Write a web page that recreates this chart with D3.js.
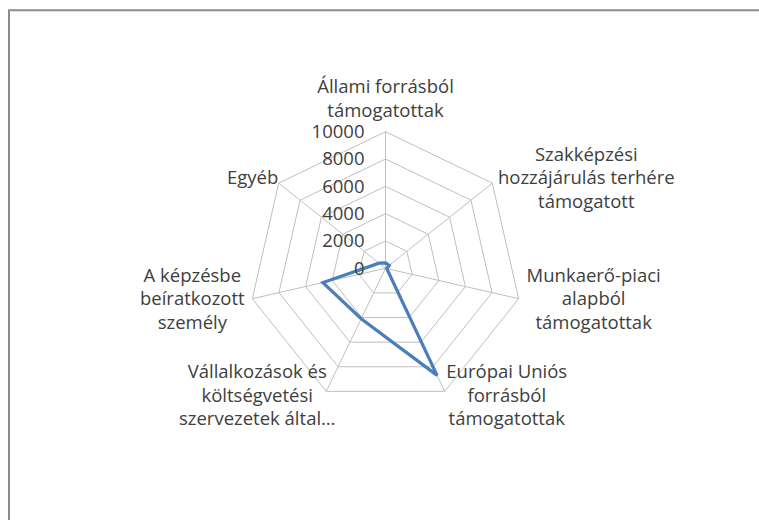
<!DOCTYPE html>
<html>
<head>
<meta charset="utf-8">
<script src="https://cdn.jsdelivr.net/npm/d3@7"></script>
<style>
  html, body { margin: 0; padding: 0; background: #fff; }
  svg { display: block; }
  text { font-family: "Open Sans", sans-serif; fill: #404040; }
</style>
</head>
<body>
<svg id="chart" width="759" height="520"></svg>
<script>
// ---- data ----
const categories = [
  ["Állami forrásból", "támogatottak"],
  ["Szakképzési", "hozzájárulás terhére", "támogatott"],
  ["Munkaerő-piaci", "alapból", "támogatottak"],
  ["Európai Uniós", "forrásból", "támogatottak"],
  ["Vállalkozások és", "költségvetési", "szervezetek által…"],
  ["A képzésbe", "beíratkozott", "személy"],
  ["Egyéb"]
];
const values = [400, 350, 100, 8700, 4100, 4700, 600];
const tickValues = [0, 2000, 4000, 6000, 8000, 10000];

// ---- layout ----
const W = 759, H = 520;
const cx = 385.5, cy = 268.3, R = 136.6;
const fontSize = 18.5, lineH = 23.5;
// label block centre offsets from each axis end (x), baseline of middle line offset (y)
const labelDx = [0, 94, 75, 62, -69, -60, -26];

const svg = d3.select("#chart");

// frame (left and top edges visible)
svg.append("path")
  .attr("d", `M9,${H} L9,10.3 L${W},10.3`)
  .attr("fill", "none").attr("stroke", "#8c8c8c").attr("stroke-width", 2);

const r = d3.scaleLinear().domain([0, 10000]).range([0, R]);
const n = categories.length;
const angle = d3.scaleLinear().domain([0, n]).range([0, 2 * Math.PI]);
const px = (i, v) => cx + r(v) * Math.sin(angle(i));
const py = (i, v) => cy - r(v) * Math.cos(angle(i));

const g = svg.append("g");

// grid rings
tickValues.filter(t => t > 0).forEach(t => {
  g.append("path")
    .attr("d", d3.line()(d3.range(n).map(i => [px(i, t), py(i, t)])) + "Z")
    .attr("fill", "none").attr("stroke", "#bfbfbf").attr("stroke-width", 1);
});
// spokes
g.selectAll("line.spoke").data(d3.range(n)).join("line")
  .attr("class", "spoke")
  .attr("x1", cx).attr("y1", cy)
  .attr("x2", i => px(i, 10000)).attr("y2", i => py(i, 10000))
  .attr("stroke", "#bfbfbf").attr("stroke-width", 1);

// data line
const pts = values.map((v, i) => [px(i, v), py(i, v)]);
g.append("path")
  .attr("d", d3.line()(pts) + "Z")
  .attr("fill", "none").attr("stroke", "#4a7ebb").attr("stroke-width", 3.2)
  .attr("stroke-linejoin", "miter");

// tick labels
g.selectAll("text.tick").data(tickValues).join("text")
  .attr("class", "tick")
  .attr("x", cx - 21)
  .attr("y", t => cy - r(t))
  .attr("dy", "0.35em")
  .attr("text-anchor", "end")
  .style("font-size", fontSize + "px")
  .text(t => t);

// category labels
categories.forEach((lines, i) => {
  const a = angle(i);
  const vx = px(i, 10000), vy = py(i, 10000);
  const t = g.append("text").attr("text-anchor", "middle").style("font-size", fontSize + "px");
  let x = vx + labelDx[i];
  let firstBaseline;
  if (i === 0) {
    // above the top axis: last baseline 15px above the vertex
    firstBaseline = vy - 15 - (lines.length - 1) * lineH;
  } else {
    const mid = vy + 5 - 6 * Math.cos(a);
    firstBaseline = mid - ((lines.length - 1) / 2) * lineH;
  }
  lines.forEach((s, k) => {
    t.append("tspan").attr("x", x).attr("y", firstBaseline + k * lineH).text(s);
  });
});
</script>
</body>
</html>
